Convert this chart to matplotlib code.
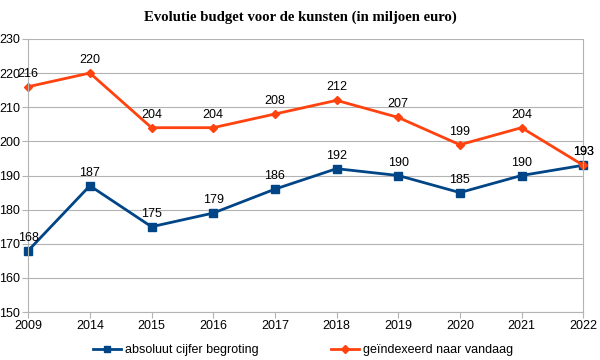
import matplotlib.pyplot as plt

# data
years = ['2009', '2014', '2015', '2016', '2017', '2018', '2019', '2020', '2021', '2022']
absoluut = [168, 187, 175, 179, 186, 192, 190, 185, 190, 193]
geindexeerd = [216, 220, 204, 204, 208, 212, 207, 199, 204, 193]

blue = '#004586'
orange = '#ff420e'

plt.rcParams['font.family'] = ['Liberation Sans', 'DejaVu Sans']

fig = plt.figure(figsize=(6, 3.6), dpi=100)
ax = fig.add_axes([0.047, 0.133, 0.925, 0.759])

x = range(len(years))
ax.plot(x, absoluut, color=blue, lw=2, marker='s', ms=6, clip_on=False,
        label='absoluut cijfer begroting')
ax.plot(x, geindexeerd, color=orange, lw=2, marker='D', ms=4.5, clip_on=False,
        label='geïndexeerd naar vandaag')

for i, v in enumerate(absoluut):
    ax.annotate(str(v), (i, v), xytext=(0, 5), textcoords='offset points',
                ha='center', va='bottom', fontsize=9)
for i, v in enumerate(geindexeerd):
    ax.annotate(str(v), (i, v), xytext=(0, 5), textcoords='offset points',
                ha='center', va='bottom', fontsize=9)

ax.set_xlim(0, len(years) - 1)
ax.set_ylim(150, 230)
ax.set_yticks(range(150, 231, 10))
ax.set_xticks(list(x))
ax.set_xticklabels(years)
ax.tick_params(labelsize=9, length=4, color='#b3b3b3', pad=2)
ax.grid(axis='y', color='#b3b3b3', lw=0.8)
ax.grid(axis='x', visible=False)
for s in ax.spines.values():
    s.set_visible(False)
for side in ['left', 'right', 'bottom']:
    ax.spines[side].set_visible(True)
    ax.spines[side].set_color('#b3b3b3')
ax.set_axisbelow(True)

fig.suptitle('Evolutie budget voor de kunsten (in miljoen euro)', y=0.972,
             fontsize=10.6, fontweight='bold', family='Liberation Serif')

leg = fig.legend(loc='center', bbox_to_anchor=(0.505, 0.028), ncol=2, frameon=False,
                 fontsize=9, columnspacing=5.8, handlelength=2.2, handletextpad=0.35,
                 markerscale=0.8)

fig.savefig('out.png')
